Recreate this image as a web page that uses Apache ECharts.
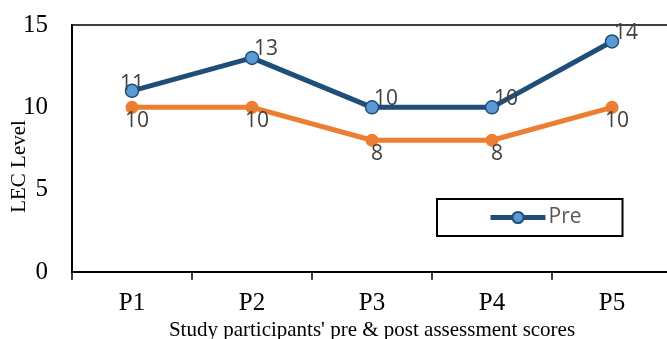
<!DOCTYPE html>
<html>
<head>
<meta charset="utf-8">
<script src="https://cdn.jsdelivr.net/npm/echarts@6/dist/echarts.min.js"></script>
<style>
  html, body { margin: 0; padding: 0; background: #fff; }
  #chart { width: 667px; height: 339px; }
</style>
</head>
<body>
<div id="chart"></div>
<script>
// Participants and their LEC scores before and after the assessment
const participants = ['P1', 'P2', 'P3', 'P4', 'P5'];
const preScores = [11, 13, 10, 10, 14];
const postScores = [10, 10, 8, 8, 10];
const yTicks = { min: 0, max: 15, interval: 5 };

const serif = '"Liberation Serif", "Times New Roman", serif';
const sans = '"Open Sans", "Noto Sans", sans-serif';

// Label placement for the "Pre" values: up and to the right of each point,
// except the first, which sits centred just above its marker.
function preLabelOffset(i) {
  return i === 0 ? [0, 16] : [14, 14];
}

const chart = echarts.init(document.getElementById('chart'), null, { renderer: 'canvas' });

chart.setOption({
  animation: false,
  backgroundColor: '#ffffff',
  grid: {
    left: 72, top: 25, width: 600, height: 247,
    containLabel: false,
    outerBoundsMode: 'none',
    show: true, borderColor: '#000', borderWidth: 1.5, backgroundColor: 'transparent'
  },
  legend: {
    data: ['Pre'],
    left: 437, top: 199,
    padding: [8, 41, 8, 51],
    backgroundColor: '#fff',
    borderColor: '#000', borderWidth: 2,
    itemWidth: 55, itemHeight: 14, itemGap: 10,
    lineStyle: { width: 5 },
    textStyle: { fontFamily: sans, fontSize: 21, color: '#595959', padding: [0, 0, 0, -2] }
  },
  xAxis: {
    type: 'category',
    data: participants,
    boundaryGap: true,
    name: "Study participants' pre & post assessment scores",
    nameLocation: 'middle',
    nameGap: 48,
    nameMoveOverlap: false,
    nameTextStyle: { fontFamily: serif, fontSize: 21, color: '#000' },
    axisLine: { show: true, lineStyle: { color: '#000', width: 2 } },
    axisTick: { show: true, length: 8, lineStyle: { color: '#000', width: 1.5 } },
    axisLabel: { fontFamily: serif, fontSize: 25, color: '#000', margin: 19 },
    splitLine: { show: false }
  },
  yAxis: {
    type: 'value',
    min: yTicks.min, max: yTicks.max, interval: yTicks.interval,
    name: 'LEC Level',
    nameLocation: 'middle',
    nameGap: 42,
    nameMoveOverlap: false,
    nameTextStyle: { fontFamily: serif, fontSize: 21, color: '#000', padding: [0, 36, 0, 0] },
    axisLine: { show: true, lineStyle: { color: '#000', width: 2 } },
    axisTick: { show: false },
    axisLabel: { fontFamily: serif, fontSize: 25, color: '#000', margin: 24 },
    splitLine: { show: false }
  },
  series: [
    {
      name: 'Post',
      type: 'line',
      data: postScores,
      symbol: 'circle',
      symbolSize: 13,
      lineStyle: { color: '#ED7D31', width: 5 },
      itemStyle: { color: '#ED7D31', borderColor: '#ED7D31', borderWidth: 0 },
      label: {
        show: true, position: 'bottom', distance: 0, offset: [5, -3],
        fontFamily: sans, fontSize: 21, color: '#404040'
      },
      z: 2
    },
    {
      name: 'Pre',
      type: 'line',
      data: preScores.map((v, i) => ({
        value: v,
        label: { offset: preLabelOffset(i) }
      })),
      symbol: 'circle',
      symbolSize: 13,
      lineStyle: { color: '#1F4E79', width: 5 },
      itemStyle: { color: '#5B9BD5', borderColor: '#1F4E79', borderWidth: 1.5 },
      label: {
        show: true, position: 'top', distance: 5,
        fontFamily: sans, fontSize: 21, color: '#404040'
      },
      z: 3
    }
  ]
});
</script>
</body>
</html>
